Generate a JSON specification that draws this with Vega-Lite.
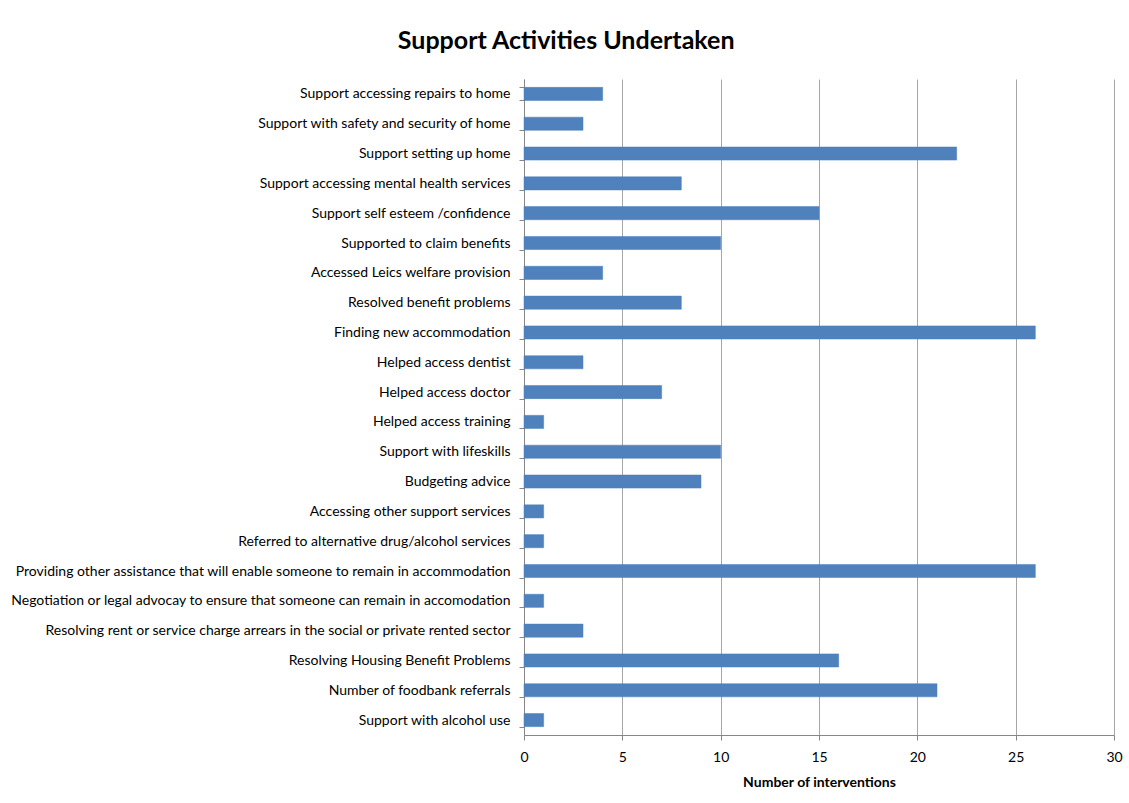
{
  "$schema": "https://vega.github.io/schema/vega-lite/v6.json",
  "autosize": {"type": "none"},
  "padding": {"left": 524, "top": 79, "right": 15, "bottom": 68},
  "width": 590,
  "height": 656,
  "background": "white",
  "title": {
    "text": "Support Activities Undertaken",
    "font": "Lato, sans-serif",
    "fontSize": 25,
    "fontWeight": "bold",
    "color": "#000000",
    "anchor": "middle",
    "frame": "bounds",
    "offset": 18
  },
  "data": {
    "values": [
      {"activity": "Support accessing repairs to home", "value": 4},
      {"activity": "Support with safety and security of home", "value": 3},
      {"activity": "Support setting up home", "value": 22},
      {"activity": "Support accessing mental health services", "value": 8},
      {"activity": "Support self esteem /confidence", "value": 15},
      {"activity": "Supported to claim benefits", "value": 10},
      {"activity": "Accessed Leics welfare provision", "value": 4},
      {"activity": "Resolved benefit problems", "value": 8},
      {"activity": "Finding new accommodation", "value": 26},
      {"activity": "Helped access dentist", "value": 3},
      {"activity": "Helped access doctor", "value": 7},
      {"activity": "Helped access training", "value": 1},
      {"activity": "Support with lifeskills", "value": 10},
      {"activity": "Budgeting advice", "value": 9},
      {"activity": "Accessing other support services", "value": 1},
      {"activity": "Referred to alternative drug/alcohol services", "value": 1},
      {"activity": "Providing other assistance that will enable someone to remain in accommodation", "value": 26},
      {"activity": "Negotiation or legal advocay to ensure that someone can remain in accomodation", "value": 1},
      {"activity": "Resolving rent or service charge arrears in the social or private rented sector", "value": 3},
      {"activity": "Resolving Housing Benefit Problems", "value": 16},
      {"activity": "Number of foodbank referrals", "value": 21},
      {"activity": "Support with alcohol use", "value": 1}
    ]
  },
  "mark": {"type": "bar", "color": "#4F81BD", "stroke": "#4A7EBB", "strokeWidth": 0.5},
  "encoding": {
    "y": {
      "field": "activity",
      "type": "nominal",
      "sort": null,
      "scale": {"paddingInner": 0.56, "paddingOuter": 0.28},
      "axis": {
        "title": null,
        "tickBand": "extent",
        "labelFont": "Lato, sans-serif",
        "labelFontSize": 14,
        "labelColor": "#000000",
        "labelPadding": 9,
        "labelLimit": 600,
        "domainColor": "#868686",
        "tickColor": "#868686",
        "tickSize": 5
      }
    },
    "x": {
      "field": "value",
      "type": "quantitative",
      "scale": {"domain": [0, 30], "nice": false},
      "axis": {
        "values": [0, 5, 10, 15, 20, 25, 30],
        "labelFlush": false,
        "title": "Number of interventions",
        "titleFont": "Lato, sans-serif",
        "titleFontSize": 14,
        "titleFontWeight": "bold",
        "titleColor": "#000000",
        "titlePadding": 11,
        "labelFont": "Lato, sans-serif",
        "labelFontSize": 14,
        "labelColor": "#000000",
        "labelPadding": 10,
        "domainColor": "#868686",
        "tickColor": "#868686",
        "tickSize": 5,
        "grid": true,
        "gridColor": "#A6A6A6",
        "gridWidth": 1
      }
    }
  },
  "config": {"view": {"stroke": null}}
}
